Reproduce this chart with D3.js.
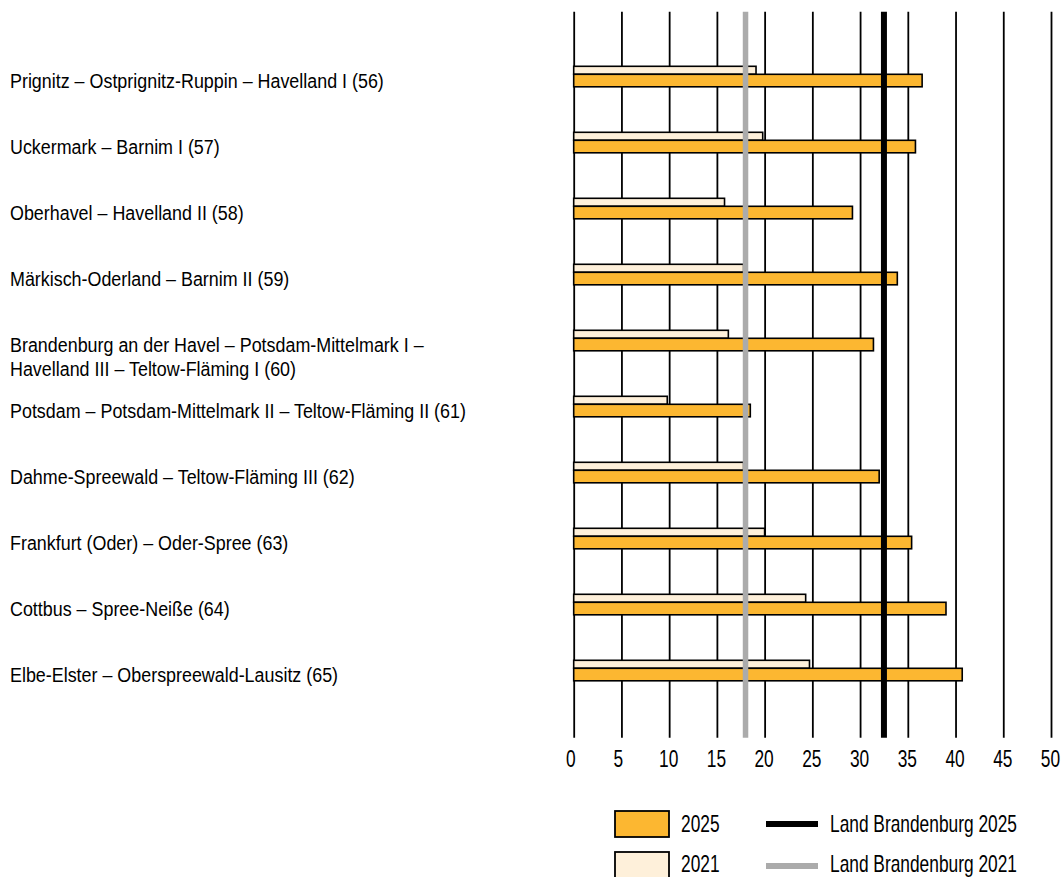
<!DOCTYPE html>
<html>
<head>
<meta charset="utf-8">
<script src="https://cdn.jsdelivr.net/npm/d3@7/dist/d3.min.js"></script>
<style>
  html, body { margin: 0; padding: 0; background: #fff; }
  svg { display: block; }
  text { font-family: "Liberation Sans", Arial, sans-serif; fill: #000; }
</style>
</head>
<body>
<svg id="chart" width="1062" height="877"></svg>
<script>
// ---- data ----
const regions = [
  ["Prignitz – Ostprignitz-Ruppin – Havelland I (56)"],
  ["Uckermark – Barnim I (57)"],
  ["Oberhavel – Havelland II (58)"],
  ["Märkisch-Oderland – Barnim II (59)"],
  ["Brandenburg an der Havel – Potsdam-Mittelmark I –", "Havelland III – Teltow-Fläming I (60)"],
  ["Potsdam – Potsdam-Mittelmark II – Teltow-Fläming II (61)"],
  ["Dahme-Spreewald – Teltow-Fläming III (62)"],
  ["Frankfurt (Oder) – Oder-Spree (63)"],
  ["Cottbus – Spree-Neiße (64)"],
  ["Elbe-Elster – Oberspreewald-Lausitz (65)"]
];
const values2025 = [36.5, 35.8, 29.2, 33.9, 31.4, 18.5, 32.0, 35.4, 39.0, 40.7];
const values2021 = [19.1, 19.8, 15.8, 17.8, 16.2, 9.8, 17.8, 20.0, 24.3, 24.7];
const land2025 = 32.5;
const land2021 = 18.0;
const xTicks = [0, 5, 10, 15, 20, 25, 30, 35, 40, 45, 50];
const legendBars = ["2025", "2021"];
const legendLines = ["Land Brandenburg 2025", "Land Brandenburg 2021"];

// ---- styles ----
const C2025 = "#FCB731";
const C2021 = "#FEF0DA";
const CGRAY = "#ABABAB";
const LABEL_FS = 21, TICK_FS = 23;

const svg = d3.select("#chart");

// measure helper to emulate a condensed face
function naturalWidth(str, fs) {
  const t = svg.append("text").style("font-size", fs + "px").text(str);
  const w = t.node().getComputedTextLength();
  t.remove();
  return w;
}
const sxLabel = 374 / naturalWidth(regions[0][0], LABEL_FS);
const sxLegend = 187 / naturalWidth(legendLines[0], TICK_FS);

const x = d3.scaleLinear().domain([0, 50]).range([573.7, 1051]);
const ids = regions.map((d, i) => i);
const y = d3.scaleBand().domain(ids).range([43.8, 703.8]).padding(0);
const gridTop = 11.7, gridBottom = 737.7;

// grid lines via axis
const axis = d3.axisBottom(x).tickValues(xTicks).tickSize(gridBottom - gridTop).tickFormat(d3.format("d"));
const gAxis = svg.append("g").attr("transform", `translate(0,${gridTop})`).call(axis);
gAxis.select(".domain").remove();
gAxis.selectAll(".tick line").attr("stroke", "#000").attr("stroke-width", 1.8);
gAxis.selectAll(".tick text")
  .attr("y", 0).attr("dy", 0)
  .attr("transform", d => `translate(${d < 10 ? -3.5 : -1},${gridBottom - gridTop + 29.5}) scale(${sxLegend},1)`)
  .style("font-size", TICK_FS + "px")
  .attr("fill", "#000");

// bars
const groups = svg.append("g").selectAll("g").data(ids).join("g");
groups.append("rect")
  .attr("x", x(0))
  .attr("y", i => y(i) + 22.5)
  .attr("width", i => x(values2021[i]) - x(0))
  .attr("height", 8)
  .attr("fill", C2021).attr("stroke", "#000").attr("stroke-width", 1.6);
groups.append("rect")
  .attr("x", x(0))
  .attr("y", i => y(i) + 30.5)
  .attr("width", i => x(values2025[i]) - x(0))
  .attr("height", 12.5)
  .attr("fill", C2025).attr("stroke", "#000").attr("stroke-width", 1.6);

// reference lines
svg.append("line").attr("x1", x(land2021)).attr("x2", x(land2021)).attr("y1", gridTop).attr("y2", gridBottom)
  .attr("stroke", CGRAY).attr("stroke-width", 5.5);
svg.append("line").attr("x1", x(land2025)).attr("x2", x(land2025)).attr("y1", gridTop).attr("y2", gridBottom)
  .attr("stroke", "#000").attr("stroke-width", 6);

// category labels
const labels = svg.append("g").selectAll("text").data(ids).join("text")
  .attr("transform", i => `translate(10,${y(i) + y.bandwidth() / 2 + 11}) scale(${sxLabel},1)`)
  .style("font-size", LABEL_FS + "px");
labels.each(function(i) {
  const t = d3.select(this);
  regions[i].forEach((line, k) => {
    t.append("tspan").attr("x", 0).attr("dy", k === 0 ? 0 : 24).text(line);
  });
});

// legend
const lg = svg.append("g");
const barRows = [{y: 811, ty: 832, t: legendBars[0], c: C2025}, {y: 852, ty: 871.5, t: legendBars[1], c: C2021}];
barRows.forEach(r => {
  lg.append("rect").attr("x", 615).attr("y", r.y).attr("width", 54).attr("height", 26)
    .attr("fill", r.c).attr("stroke", "#000").attr("stroke-width", 1.8);
  lg.append("text").attr("transform", `translate(681,${r.ty}) scale(${sxLegend},1)`)
    .style("font-size", TICK_FS + "px").text(r.t);
});
const lineRows = [{y: 824, ty: 832, t: legendLines[0], c: "#000"}, {y: 866, ty: 871.5, t: legendLines[1], c: CGRAY}];
lineRows.forEach(r => {
  lg.append("line").attr("x1", 766).attr("x2", 818).attr("y1", r.y).attr("y2", r.y)
    .attr("stroke", r.c).attr("stroke-width", 6);
  lg.append("text").attr("transform", `translate(830,${r.ty}) scale(${sxLegend},1)`)
    .style("font-size", TICK_FS + "px").text(r.t);
});
</script>
</body>
</html>
